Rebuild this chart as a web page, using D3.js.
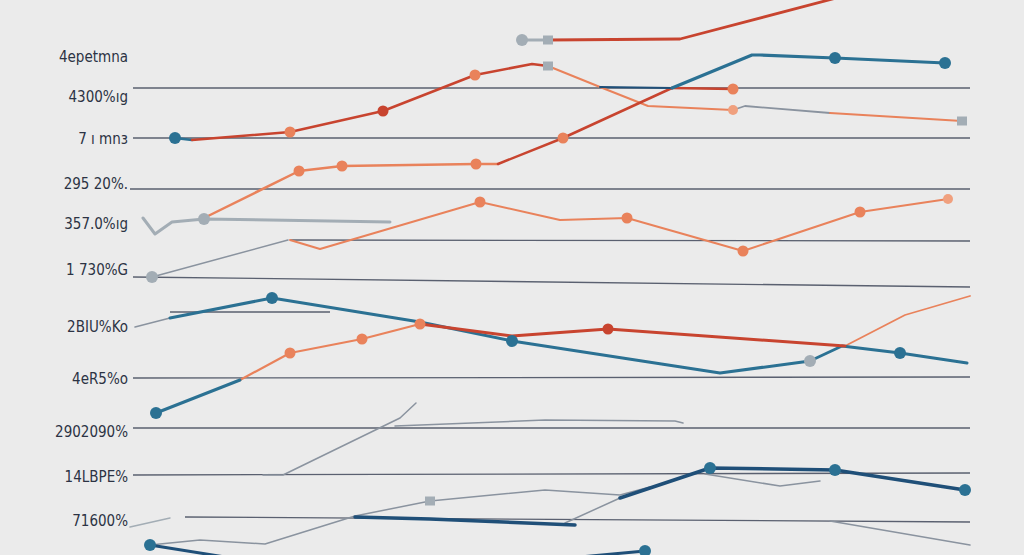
<!DOCTYPE html>
<html>
<head>
<meta charset="utf-8">
<script src="https://cdn.jsdelivr.net/npm/d3@7"></script>
<style>
  html, body { margin: 0; padding: 0; background: #ebebeb; }
  svg { display: block; }
</style>
</head>
<body>
<svg id="chart"></svg>
<script>
/* ── Data (x, y in chart units) ── */
const tickLabels = ['4epetmna', '4300%ıg', '7 ı mnз', '295 20%.', '357.0%ıg', '1 730%G',
  '2BIU%Ko', '4eR5%o', '2902090%', '14LBPE%', '71600%'];
const tickValues = [49.8, 45.8, 41.6, 37.1, 33.1, 28.5, 22.8, 17.6, 12.3, 7.8, 3.4];

// gridlines: [y at start, y at end, x start, x end]
const gridRows = [
  [46.7, 46.7, 13.3, 97], [41.7, 41.7, 13.3, 97], [36.6, 36.6, 13, 97],
  [31.5, 31.4, 29, 97], [27.8, 26.8, 13.3, 97], [24.3, 24.3, 17, 33],
  [17.7, 17.8, 13.3, 97], [12.7, 12.7, 13.3, 97], [8.0, 8.2, 13.3, 97],
  [3.8, 3.3, 18.5, 97]
];

const redTop = [[54.8, 51.5], [68, 51.6], [84, 55.8]];
const grayStub = [[52.2, 51.5], [54.8, 51.5]];
const climbTeal = [[17.5, 41.7], [19.2, 41.5]];
const climbA = [[19.2, 41.5], [29, 42.3], [38.3, 44.4], [47.5, 48], [53.2, 49.1], [54.8, 48.9]];
const fallA = [[54.8, 48.9], [60, 46.8], [64.8, 44.9], [73.3, 44.5]];
const fallGray = [[73.3, 44.5], [74.5, 44.9], [83, 44.2]];
const fallB = [[83, 44.2], [96.2, 43.4]];
const midTeal = [[60, 46.8], [67.2, 46.7]];
const midRed = [[67.2, 46.7], [73.3, 46.6]];
const riseOrange = [[20.4, 33.7], [29.9, 38.4], [34.2, 38.9], [47.6, 39.1], [49.8, 39.1]];
const riseRed = [[49.8, 39.1], [56.3, 41.7], [67.2, 46.7]];
const tealTop = [[67.2, 46.7], [75.2, 50], [76, 50], [83.5, 49.7], [94.5, 49.2]];
const wave = [[29, 31.5], [32, 30.6], [48, 35.3], [56, 33.5], [62.7, 33.7], [74.3, 30.4], [86, 34.3], [94.8, 35.6]];
const grayV = [[14.3, 33.7], [15.5, 32.1], [17.2, 33.3], [20.4, 33.6], [39, 33.3]];
const grayF = [[15.2, 27.8], [28.8, 31.5]];
const grayG0 = [[13.5, 22.8], [17, 23.7]];
const tealG = [[17, 23.7], [27.2, 25.7], [42, 23.3], [51.2, 21.4], [72, 18.2], [81, 19.4], [84.2, 20.9], [90, 20.2], [96.7, 19.2]];
const redH = [[42, 23.1], [51.2, 21.9], [60.8, 22.6], [84.5, 20.9]];
const orangeH = [[84.5, 20.9], [90.5, 24], [97, 25.9]];
const tealI = [[15.6, 14.2], [24, 17.5]];
const orangeI = [[24, 17.5], [29, 20.2], [36.2, 21.6], [42, 23.1]];
const grayJ = [[26.3, 8], [28.3, 8], [40, 13.7], [41.6, 15.2]];
const grayJ2 = [[39.5, 12.9], [54.5, 13.5], [67.5, 13.4], [68.3, 13.2]];
const grayK = [[15, 1], [20, 1.5], [26.5, 1.1], [35.5, 3.9], [43, 5.4], [54.5, 6.5], [62, 6], [65, 6.8]];
const grayK2 = [[70.5, 8.1], [78, 6.9], [82, 7.4]];
const navyL = [[35.5, 3.8], [43, 3.6], [57.5, 3]];
const grayL = [[56.5, 3.2], [62, 5.7]];
const blueL = [[62, 5.7], [71, 8.7], [83.5, 8.5], [96.5, 6.5]];
const grayM = [[83, 3.4], [97, 1]];
const navyN = [[15, 1], [22.5, -0.2]];
const navyN2 = [[58, -0.2], [64.5, 0.4]];
const gray7160 = [[13, 2.8], [17, 3.7]];

const orangeDots = [[29, 42.3], [47.5, 48], [29.9, 38.4], [34.2, 38.9], [47.6, 39.1], [56.3, 41.7],
  [73.3, 46.6], [48, 35.3], [62.7, 33.7], [74.3, 30.4], [86, 34.3], [42, 23.1], [29, 20.2], [36.2, 21.6]];
const paleOrangeDots = [[94.8, 35.6], [73.3, 44.5]];
const redDots = [[38.3, 44.4], [60.8, 22.6]];
const tealDots = [[17.5, 41.7], [83.5, 49.7], [94.5, 49.2], [27.2, 25.7], [51.2, 21.4], [90, 20.2],
  [15.6, 14.2], [71, 8.7], [83.5, 8.5], [96.5, 6.5], [15, 1], [64.5, 0.4]];
const grayDots = [[52.2, 51.5], [20.4, 33.6], [15.2, 27.8], [81, 19.4]];
const graySquares = [[54.8, 51.5], [96.2, 43.4], [43, 5.4], [54.8, 48.9]];

/* ── Colours ── */
const C = {
  bg: '#ebebeb', grid: '#4b5263', text: '#2c3344',
  red: '#c8442f', orange: '#e9825b', paleOrange: '#f0a07e', teal: '#2b7193',
  navy: '#1f4f78', gray: '#8a939f', lightGray: '#a3adb5'
};

const W = 1024, H = 555;
const svg = d3.select('#chart').attr('width', W).attr('height', H);
svg.append('rect').attr('width', W).attr('height', H).attr('fill', C.bg);

/* ── Scales ── */
const x = d3.scaleLinear().domain([0, 102.4]).range([0, W]);
const y = d3.scaleLinear().domain([0, 55.5]).range([H, 0]);
const line = d3.line().x((d) => x(d[0])).y((d) => y(d[1]));

/* ── Grid lines ── */
svg.append('g').selectAll('line')
  .data(gridRows)
  .join('line')
  .attr('x1', (d) => x(d[2])).attr('x2', (d) => x(d[3]))
  .attr('y1', (d) => y(d[0])).attr('y2', (d) => y(d[1]))
  .attr('stroke', C.grid).attr('stroke-width', 1.3).attr('opacity', 0.9);

/* ── Tick labels ── */
svg.append('g').selectAll('text')
  .data(tickLabels)
  .join('text')
  .attr('x', x(12.8))
  .attr('y', (d, i) => y(tickValues[i]))
  .attr('dy', '0.35em')
  .attr('text-anchor', 'end')
  .attr('fill', C.text)
  .attr('font-family', '"Liberation Sans Narrow", "DejaVu Sans Condensed", sans-serif')
  .attr('font-size', 15)
  .text((d) => d);

/* ── Lines ── */
const series = [
  [grayV, C.lightGray, 3], [grayF, C.gray, 1.5], [grayG0, C.gray, 1.5], [gray7160, C.lightGray, 1.5],
  [grayJ, C.gray, 1.5], [grayJ2, C.gray, 1.5], [grayK, C.gray, 1.5], [grayK2, C.gray, 1.5],
  [grayL, C.gray, 1.5], [grayM, C.gray, 1.5], [grayStub, C.lightGray, 3], [fallGray, C.gray, 1.8],
  [wave, C.orange, 2], [fallA, C.orange, 2], [fallB, C.orange, 2],
  [riseOrange, C.orange, 2.5], [orangeI, C.orange, 2.2], [orangeH, C.orange, 1.8],
  [climbTeal, C.teal, 2.5], [climbA, C.red, 2.5], [redTop, C.red, 2.8], [riseRed, C.red, 2.5],
  [midTeal, C.navy, 2], [midRed, C.red, 2.5], [tealTop, C.teal, 3.2],
  [tealG, C.teal, 3], [redH, C.red, 3], [tealI, C.teal, 3],
  [navyL, C.navy, 3.5], [blueL, C.navy, 3.5], [navyN, C.navy, 3], [navyN2, C.navy, 3]
];

svg.append('g').selectAll('path')
  .data(series)
  .join('path')
  .attr('d', (d) => line(d[0]))
  .attr('fill', 'none')
  .attr('stroke', (d) => d[1])
  .attr('stroke-width', (d) => d[2])
  .attr('stroke-linejoin', 'round')
  .attr('stroke-linecap', 'round');

/* ── Markers ── */
const dotSets = [
  [orangeDots, C.orange, 5.5], [paleOrangeDots, C.paleOrange, 5], [redDots, C.red, 5.5],
  [tealDots, C.teal, 6], [grayDots, C.lightGray, 6]
];
dotSets.forEach(([pts, color, r]) => {
  svg.append('g').selectAll('circle')
    .data(pts)
    .join('circle')
    .attr('cx', (d) => x(d[0]))
    .attr('cy', (d) => y(d[1]))
    .attr('r', r)
    .attr('fill', color);
});

svg.append('g').selectAll('rect')
  .data(graySquares)
  .join('rect')
  .attr('x', (d) => x(d[0]) - 5)
  .attr('y', (d) => y(d[1]) - 4.5)
  .attr('width', 10)
  .attr('height', 9)
  .attr('fill', C.lightGray);
</script>
</body>
</html>
